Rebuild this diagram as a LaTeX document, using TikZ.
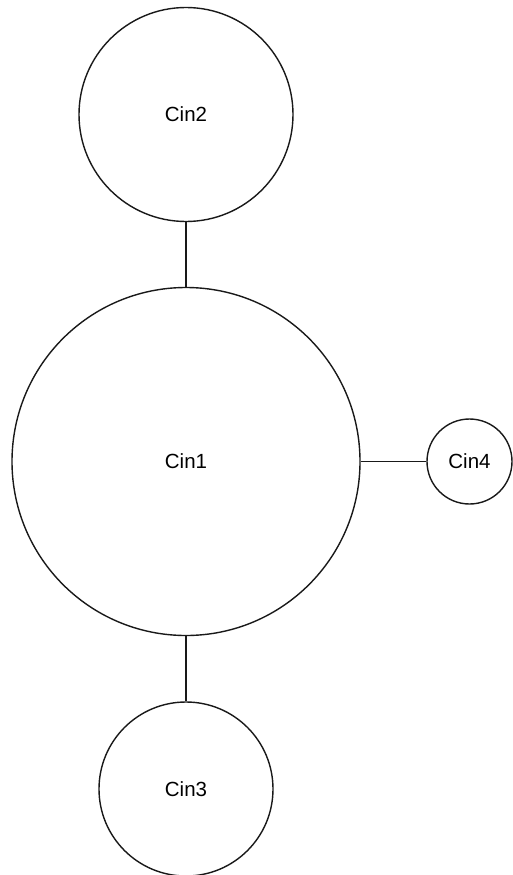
\documentclass[tikz,border=0pt]{standalone}
\usepackage{fontspec}
\setmainfont{Liberation Sans}
\begin{document}
\begin{tikzpicture}[x=1pt,y=-1pt,
  cin/.style={draw=black!90, line width=1.4pt, circle, inner sep=0pt, font=\fontsize{20.5}{24}\selectfont},
  link/.style={draw=black!90, line width=1.4pt}]
\useasboundingbox (0,0) rectangle (512,875);
\node[cin, minimum size=348pt] (c1) at (186,461.5) {Cin1};
\node[cin, minimum size=214pt] (c2) at (186,114.5) {Cin2};
\node[cin, minimum size=174pt] (c3) at (186,789) {Cin3};
\node[cin, minimum size=85pt] (c4) at (469.5,461.5) {Cin4};
\draw[link] (c2.south) -- (c1.north);
\draw[link] (c1.south) -- (c3.north);
\draw[link] (c1.east) -- (c4.west);
\end{tikzpicture}
\end{document}
